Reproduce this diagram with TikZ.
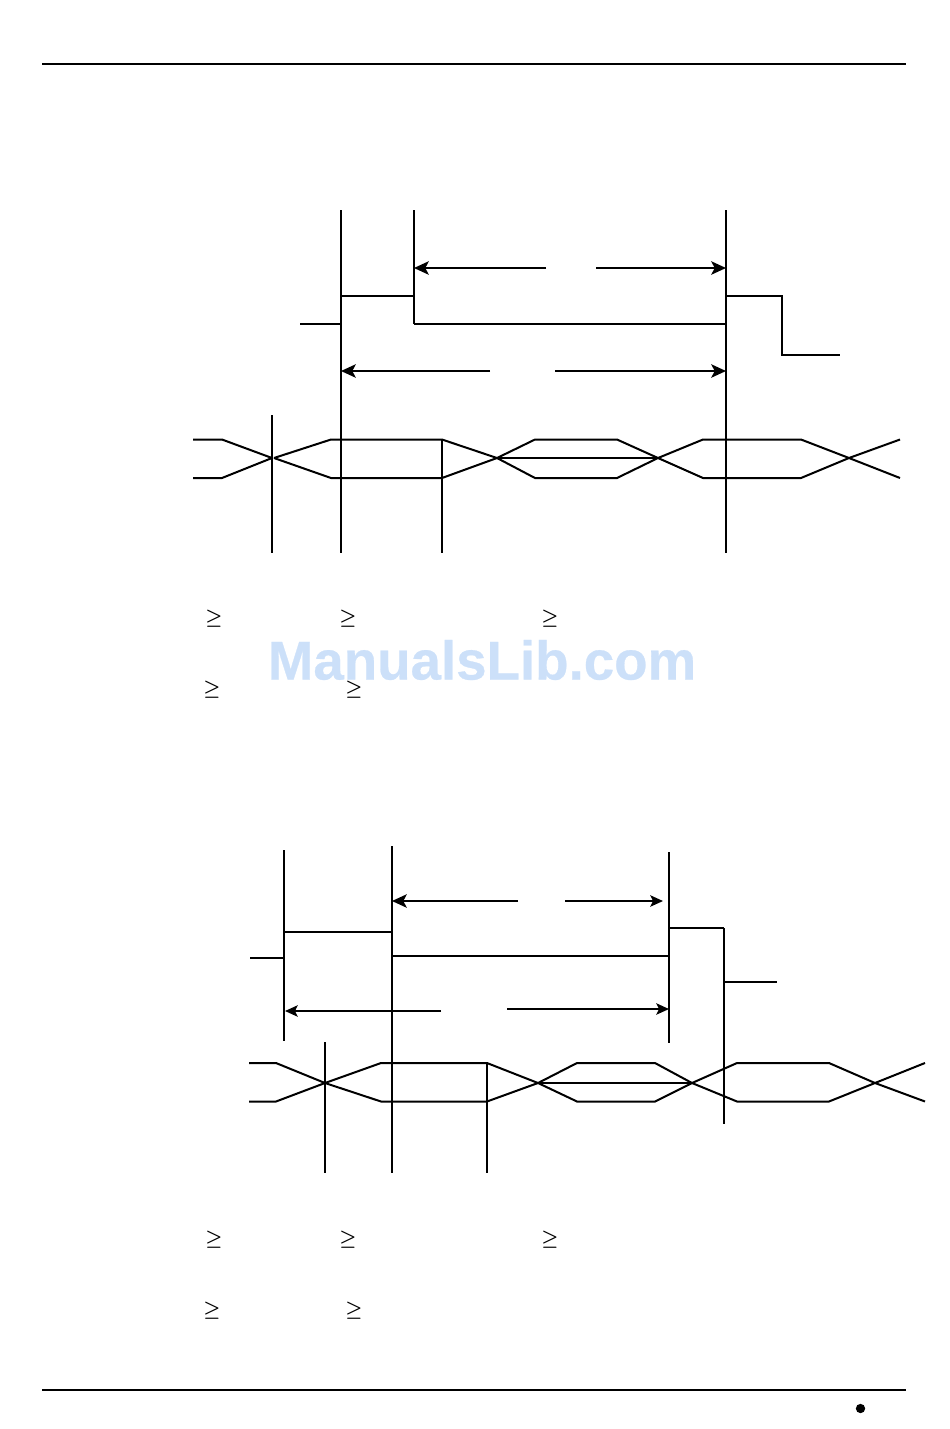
\documentclass[tikz,border=0pt]{standalone}
\usepackage{amsmath}
\usepackage{amssymb}
\usepackage{fontspec}
\setmainfont{Liberation Sans}
\newfontfamily\markfont[FakeBold=0.5]{Liberation Sans Bold}
\usetikzlibrary{arrows, arrows.meta}
\definecolor{markblue}{HTML}{CCE0F9}
\tikzset{
  sig/.style={line width=1.5pt},
  rulebar/.style={line width=1.7pt},
  span/.style={line width=1.5pt, -{Stealth[length=11pt, width=10pt, inset=2.5pt]}},
  spansmall/.style={line width=1.5pt, -{Stealth[length=9.5pt, width=8.5pt, inset=2pt]}},
  ge/.style={inner sep=0pt, font=\fontsize{14.5}{14.5}\selectfont},
}

\begin{document}
\begin{tikzpicture}[x=0.75pt, y=-0.75pt]
    \useasboundingbox (0,0) rectangle (950,1429);

    \draw[rulebar] (42,64) -- (906,64);
    \draw[rulebar] (42,1390) -- (906,1390);

    \node[inner sep=0pt, text=markblue, font=\fontsize{41}{41}\markfont] (mark) at (482,660) {ManualsLib.com};

    % first chart
    \draw[sig] (341,210) -- (341,553);
    \draw[sig] (414,210) -- (414,324);
    \draw[sig] (726,210) -- (726,553);
    \draw[sig] (272,415) -- (272,553);
    \draw[sig] (442,440) -- (442,553);

    \draw[sig] (300,324) -- (341,324);
    \draw[sig] (341,296) -- (414,296);
    \draw[sig] (414,324) -- (726,324);
    \draw[sig] (726,296) -- (782,296) -- (782,355) -- (840,355);

    \draw[span] (546,268) -- (414,268);
    \draw[span] (596,268) -- (726,268);
    \draw[span] (490,371) -- (341,371);
    \draw[span] (555,371) -- (726,371);

    \draw[sig] (193,439.5) -- (222,439.5) -- (272,458);
    \draw[sig] (193,478) -- (222,478) -- (272,458);
    \draw[sig] (274,458) -- (331,439.5) -- (442,439.5) -- (497,458) -- (535,478) -- (617,478) -- (658,458) -- (703,439.5) -- (801,439.5) -- (849,458) -- (900,478);
    \draw[sig] (274,458) -- (331,478) -- (442,478) -- (497,458) -- (535,439.5) -- (617,439.5) -- (658,458) -- (703,478) -- (801,478) -- (849,458) -- (900,439.5);
    \draw[sig] (497,458) -- (658,458);

    \node[ge] (a1) at (214,619) {$\boldsymbol{\geq}$};
    \node[ge] (a2) at (348,619) {$\boldsymbol{\geq}$};
    \node[ge] (a3) at (550,619) {$\boldsymbol{\geq}$};
    \node[ge] (a4) at (212,690) {$\boldsymbol{\geq}$};
    \node[ge] (a5) at (354,690) {$\boldsymbol{\geq}$};

    % second chart
    \draw[sig] (284,850) -- (284,1041);
    \draw[sig] (392,846) -- (392,1173);
    \draw[sig] (669,852) -- (669,1043);
    \draw[sig] (325,1042) -- (325,1173);
    \draw[sig] (487,1063) -- (487,1173);
    \draw[sig] (724,928) -- (724,1124);

    \draw[sig] (250,958) -- (284,958);
    \draw[sig] (284,932) -- (392,932);
    \draw[sig] (392,956) -- (669,956);
    \draw[sig] (669,928) -- (724,928);
    \draw[sig] (724,982) -- (777,982);

    \draw[span] (518,901) -- (392,901);
    \draw[spansmall] (565,901) -- (663,901);
    \draw[spansmall] (441,1011) -- (285,1011);
    \draw[spansmall] (507,1009) -- (669,1009);

    \draw[sig] (249,1063) -- (276,1063) -- (325,1083) -- (381,1101.5) -- (487,1101.5) -- (538,1083) -- (577,1063) -- (655,1063) -- (692,1083) -- (737,1101.5) -- (829,1101.5) -- (875,1083) -- (925,1063);
    \draw[sig] (249,1101.5) -- (276,1101.5) -- (325,1083) -- (381,1063) -- (487,1063) -- (538,1083) -- (577,1101.5) -- (655,1101.5) -- (692,1083) -- (737,1063) -- (829,1063) -- (875,1083) -- (925,1101.5);
    \draw[sig] (538,1083) -- (692,1083);

    \node[ge] (b1) at (214,1240) {$\boldsymbol{\geq}$};
    \node[ge] (b2) at (348,1240) {$\boldsymbol{\geq}$};
    \node[ge] (b3) at (550,1240) {$\boldsymbol{\geq}$};
    \node[ge] (b4) at (212,1311) {$\boldsymbol{\geq}$};
    \node[ge] (b5) at (354,1311) {$\boldsymbol{\geq}$};

    \node[circle, fill, inner sep=0pt, minimum size=7pt] (dot) at (860.5,1408.5) {};
  \end{tikzpicture}
\end{document}
